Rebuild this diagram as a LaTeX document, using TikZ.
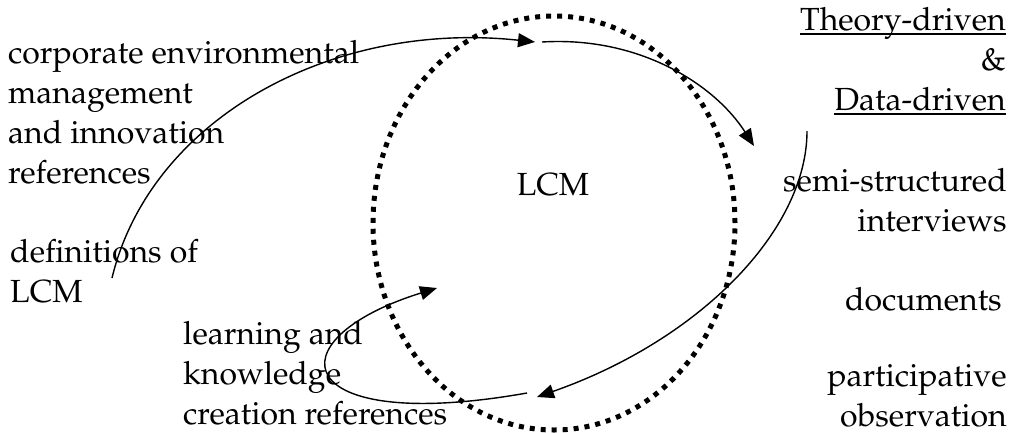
\documentclass[tikz,border=0pt]{standalone}
\usepackage[T1]{fontenc}
\usepackage{mathpazo}
\usetikzlibrary{arrows.meta,shapes.geometric}

\newcommand\wordul[1]{\setbox0\hbox{#1}\rlap{\rule[-4.5pt]{\wd0}{1.5pt}}\box0}
\tikzstyle{txt}=[inner sep=0pt,font=\fontsize{32}{40}\selectfont]
\tikzstyle{flow}=[line width=1.4pt,-{Triangle[length=17pt,width=14pt]}]
\tikzstyle{ring}=[draw,ellipse,line width=5pt,dash pattern=on 5pt off 6pt,minimum width=362pt,minimum height=414pt,inner sep=0pt]

\begin{document}
\begin{tikzpicture}[x=1pt,y=-1pt]
    \useasboundingbox (0,0) rectangle (1012,432);
    \node (lcmring)[ring] at (554,223) {};
    \node (lcm)[txt] at (553,185) {LCM};
    % text blocks, anchored on their last baseline
    \node (cem)[txt,align=left,anchor=base west] at (8,183) {corporate environmental\\management\\and innovation\\references};
    \node (defs)[txt,align=left,anchor=base west] at (10,302) {definitions of\\LCM};
    \node (lkc)[txt,align=left,anchor=base west] at (183,424) {learning and\\knowledge\\creation references};
    \node (theory)[txt,align=right,anchor=base east] at (1006,110) {\wordul{Theory-driven}\\\&\\\wordul{Data-driven}};
    \node (ssi)[txt,align=right,anchor=base east] at (1007,231) {semi-structured\\interviews};
    \node (docs)[txt,align=right,anchor=base east] at (1002,310) {documents};
    \node (part)[txt,align=right,anchor=base east] at (1007,426) {participative\\observation};
    \coordinate (defsrc) at (112,278);
    \coordinate (topin) at (535,42);
    \coordinate (topout) at (542,42);
    \coordinate (rightin) at (754,146);
    \coordinate (datasrc) at (807,131);
    \coordinate (botin) at (537,397);
    \coordinate (lkcsrc) at (527,393);
    \coordinate (lkcin) at (437,288);
    \draw[flow] (defsrc) .. controls +(38,-158) and +(-205,-22) .. (topin);
    \draw[flow] (topout) .. controls +(98,-6) and +(-39,-61) .. (rightin);
    \draw[flow] (datasrc) .. controls +(0,99) and +(163,-57) .. (botin);
    \draw[flow] (lkcsrc) .. controls +(-237,42) and +(-167,52) .. (lkcin);
\end{tikzpicture}
\end{document}
